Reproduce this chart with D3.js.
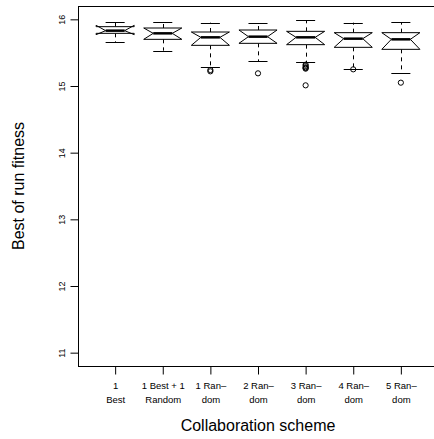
<!DOCTYPE html>
<html>
<head>
<meta charset="utf-8">
<script src="https://cdn.jsdelivr.net/npm/d3@7"></script>
<style>
  html, body { margin: 0; padding: 0; background: #fff; }
  svg { display: block; font-family: "Liberation Sans", Arial, sans-serif; }
</style>
</head>
<body>
<svg id="chart" width="434" height="439"></svg>
<script>
// Collaboration schemes (two-line tick labels)
const schemes = [
  ["1", "Best"],
  ["1 Best + 1", "Random"],
  ["1 Ran\u2013", "dom"],
  ["2 Ran\u2013", "dom"],
  ["3 Ran\u2013", "dom"],
  ["4 Ran\u2013", "dom"],
  ["5 Ran\u2013", "dom"]
];

// Five-number summaries of best-of-run fitness per scheme
const whiskerLow  = [15.66, 15.53, 15.29, 15.37, 15.36, 15.25, 15.19];
const hingeLow    = [15.79, 15.70, 15.61, 15.64, 15.62, 15.58, 15.55];
const medians     = [15.83, 15.79, 15.73, 15.74, 15.73, 15.71, 15.70];
const hingeHigh   = [15.89, 15.87, 15.81, 15.84, 15.82, 15.80, 15.80];
const whiskerHigh = [15.96, 15.96, 15.95, 15.95, 15.99, 15.95, 15.96];

// Notch limits (confidence interval of the median)
const notchLow  = [15.77, 15.70, 15.61, 15.64, 15.62, 15.58, 15.55];
const notchHigh = [15.91, 15.87, 15.81, 15.84, 15.82, 15.80, 15.80];

// Outlying runs
const outliers = [
  [],
  [],
  [15.24, 15.22],
  [15.19],
  [15.32, 15.30, 15.28, 15.27, 15.26, 15.01],
  [15.25],
  [15.05]
];

const yTicks = [11, 12, 13, 14, 15, 16];

const svg = d3.select("#chart");
const plotLeft = 78, plotRight = 438, plotTop = 6, plotBottom = 366;

const x = d3.scaleLinear().domain([0.22, 7.78]).range([plotLeft, plotRight]);
const y = d3.scaleLinear().domain([10.8, 16.2]).range([plotBottom, plotTop]);

const boxHalf = 0.4, notchHalf = 0.2, capHalf = 0.2;

const g = svg.append("g").attr("stroke", "#000").attr("fill", "none").attr("stroke-width", 1);

schemes.forEach((s, i) => {
  const c = i + 1;
  const xl = x(c - boxHalf), xr = x(c + boxHalf);
  const nl = x(c - notchHalf), nr = x(c + notchHalf);
  const cx = Math.round(x(c)) + 0.5;

  // whiskers (dashed) and caps
  g.append("line").attr("x1", cx).attr("x2", cx)
    .attr("y1", y(hingeLow[i])).attr("y2", y(whiskerLow[i]))
    .attr("stroke-dasharray", "4,4");
  g.append("line").attr("x1", cx).attr("x2", cx)
    .attr("y1", y(hingeHigh[i])).attr("y2", y(whiskerHigh[i]))
    .attr("stroke-dasharray", "4,4");
  [whiskerLow[i], whiskerHigh[i]].forEach(v => {
    g.append("line")
      .attr("x1", x(c - capHalf)).attr("x2", x(c + capHalf))
      .attr("y1", Math.round(y(v)) + 0.5).attr("y2", Math.round(y(v)) + 0.5);
  });

  // notched box
  const pts = [
    [xl, y(hingeLow[i])], [xl, y(notchLow[i])], [nl, y(medians[i])],
    [xl, y(notchHigh[i])], [xl, y(hingeHigh[i])], [xr, y(hingeHigh[i])],
    [xr, y(notchHigh[i])], [nr, y(medians[i])], [xr, y(notchLow[i])],
    [xr, y(hingeLow[i])]
  ];
  g.append("path").attr("d", d3.line()(pts) + "Z").attr("fill", "#fff");

  // median
  g.append("line").attr("x1", nl).attr("x2", nr)
    .attr("y1", y(medians[i])).attr("y2", y(medians[i]))
    .attr("stroke-width", 2.5);

  // outliers
  outliers[i].forEach(v => {
    g.append("circle").attr("cx", x(c)).attr("cy", y(v)).attr("r", 2.6);
  });
});

// frame
svg.append("rect")
  .attr("x", plotLeft + 0.5).attr("y", plotTop + 0.5)
  .attr("width", plotRight - plotLeft).attr("height", plotBottom - plotTop)
  .attr("fill", "none").attr("stroke", "#000");

// y axis
const yAxis = svg.append("g").attr("transform", `translate(${plotLeft + 0.5},0)`)
  .call(d3.axisLeft(y).tickValues(yTicks).tickSize(8).tickSizeOuter(0).tickFormat(d3.format("d")));
yAxis.select(".domain").remove();
yAxis.selectAll("line").attr("stroke", "#000");
yAxis.selectAll("text")
  .attr("font-size", 9).attr("fill", "#000")
  .attr("x", 0).attr("dy", 0)
  .attr("transform", "translate(-14,0) rotate(-90)")
  .attr("text-anchor", "middle");

// x axis
const xAxis = svg.append("g").attr("transform", `translate(0,${plotBottom + 0.5})`)
  .call(d3.axisBottom(x).tickValues(d3.range(1, 8)).tickSize(8).tickSizeOuter(0).tickFormat(""));
xAxis.select(".domain").remove();
xAxis.selectAll("line").attr("stroke", "#000");
xAxis.selectAll(".tick").each(function(d) {
  const t = d3.select(this).append("text")
    .attr("fill", "#000").attr("font-size", 9.5).attr("text-anchor", "middle");
  schemes[d - 1].forEach((line, k) => {
    t.append("tspan").attr("x", 0).attr("y", 22 + k * 14).text(line);
  });
});

// axis titles
svg.append("text")
  .attr("x", (plotLeft + plotRight) / 2).attr("y", 431)
  .attr("text-anchor", "middle").attr("font-size", 16)
  .text("Collaboration scheme");
svg.append("text")
  .attr("transform", `translate(24,${(plotTop + plotBottom) / 2}) rotate(-90)`)
  .attr("text-anchor", "middle").attr("font-size", 16)
  .text("Best of run fitness");
</script>
</body>
</html>
